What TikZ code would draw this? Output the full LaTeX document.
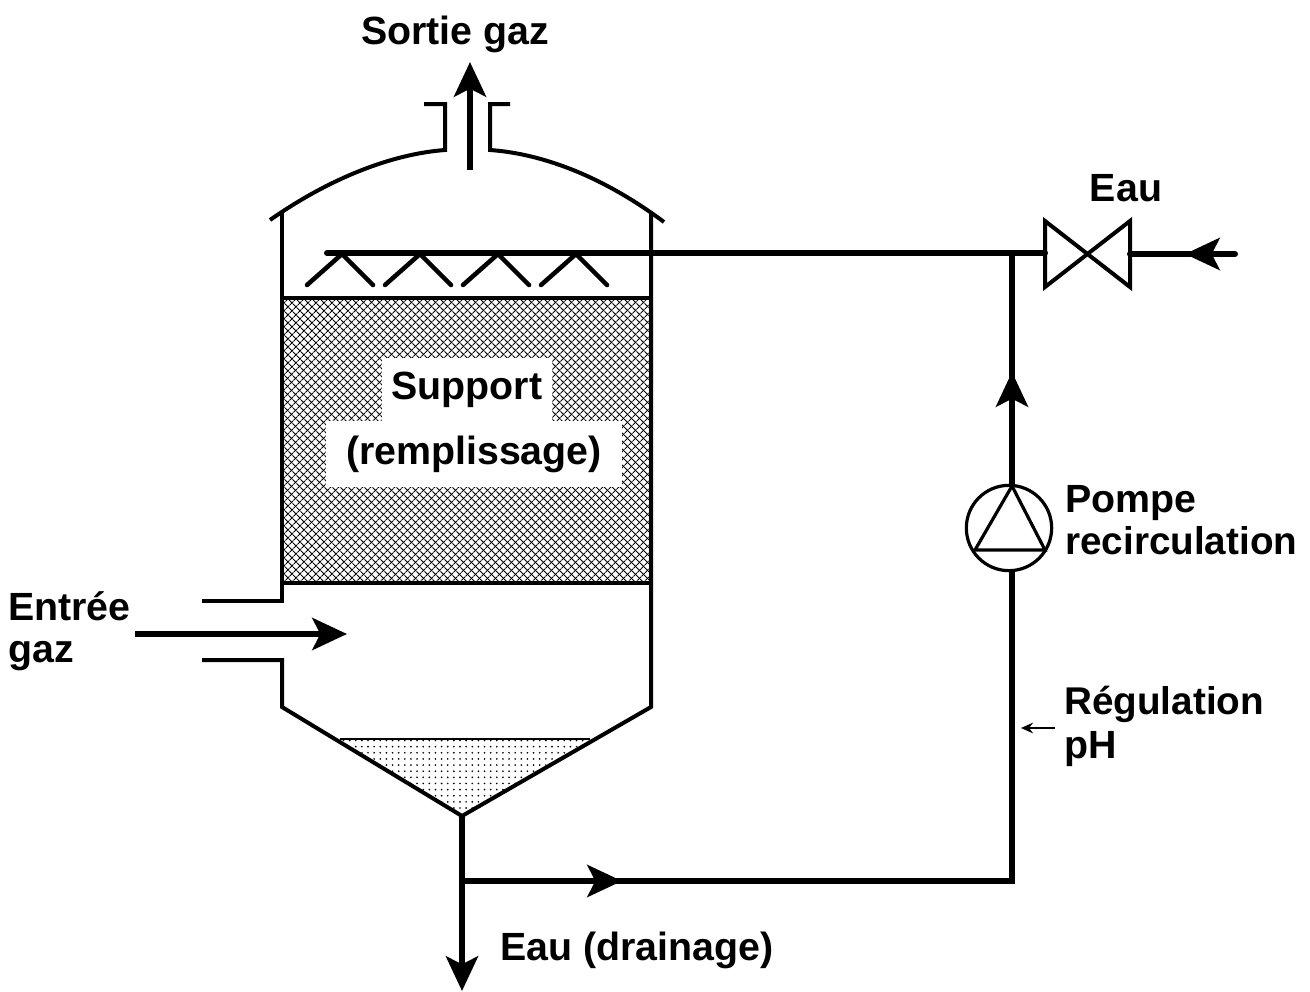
\documentclass[tikz,border=0pt]{standalone}
\usepackage{fontspec}
\setmainfont{Liberation Sans}
\usetikzlibrary{calc,arrows.meta,patterns.meta,positioning}

\begin{document}
\begin{tikzpicture}[
        x=0.75pt, y=-0.75pt,
        wall/.style={line width=3pt, line join=miter},
        pipe/.style={line width=4.5pt},
        flow/.style={pipe, -{Stealth[length=26pt, width=24pt, inset=6pt]}},
        spray/.style={line width=3.4pt, line cap=round},
        label/.style={font=\fontsize{29.5}{34}\selectfont\bfseries, inner sep=0pt},
        narrow/.style={font=\fontsize{29}{34}\selectfont\bfseries, inner sep=0pt},
        cutout/.style={fill=white, inner sep=0pt, font=\fontsize{29.5}{34}\selectfont\bfseries}
    ]
        \useasboundingbox (0,0) rectangle (1310,992);

        % packing and liquid
        \path[pattern={Lines[angle=45, distance=4pt, line width=0.9pt]}] (282,298) rectangle (651,583);
        \path[pattern={Lines[angle=-45, distance=4pt, line width=0.9pt]}] (282,298) rectangle (651,583);
        \path[pattern={Dots[distance=4.6pt, radius=0.7pt]}] (340,739) -- (590,739) -- (462,816) -- cycle;

        \node[cutout, minimum width=127.5pt, minimum height=48pt, text depth=6pt] (support) at (467,390) {Support};
        \node[cutout, minimum width=222pt, minimum height=49pt, text depth=6pt] (remplissage) at (474,454) {(remplissage)};

        % vessel
        \draw[wall] (424,104) -- (445,104) -- (445,150) .. controls (392,154) and (330,178) .. (270,220);
        \draw[wall] (510,104) -- (490,104) -- (490,150) .. controls (545,154) and (605,178) .. (664,222);
        \draw[wall] (282,213) -- (282,298);
        \draw[wall] (651,213) -- (651,707) -- (462,816) -- (282,707) -- (282,660) -- (202,660);
        \draw[wall] (282,298) -- (282,601) -- (202,601);
        \draw[wall] (282,298) -- (651,298);
        \draw[wall] (282,583) -- (651,583);
        \draw[line width=1.8pt] (340,739) -- (590,739);

        % spray heads
        \foreach \sx in {342,420,498,576}
            \draw[spray] (\sx-35,285) -- (\sx,254) -- (\sx+31,285);

        % named points of the pipework
        \coordinate (sprayend) at (327,253);
        \coordinate (tee) at (1012,253);
        \coordinate (valveL) at (1045,253);
        \coordinate (valveR) at (1130,254);
        \coordinate (feed) at (1235,254);
        \coordinate (feedtip) at (1185,254);
        \coordinate (risetip) at (1012,372);
        \coordinate (bottom) at (462,816);
        \coordinate (branch) at (462,881);
        \coordinate (corner) at (1012,881);
        \coordinate (runtip) at (622,881);
        \coordinate (draintip) at (462,991);
        \coordinate (gasin) at (135,634);
        \coordinate (gasintip) at (347,634);
        \coordinate (gasout) at (470,170);
        \coordinate (gasouttip) at (470,62);
        \coordinate (phstart) at (1055,728);
        \coordinate (phtip) at (1021,728);

        % valve and pump
        \draw[wall] (1045,221) -- (1130,287) -- (1130,221) -- (1045,287) -- cycle;
        \node[draw, circle, line width=2.4pt, minimum size=64pt, inner sep=0pt] (pump) at (1009,528) {};
        \coordinate (pumpA) at (1012,486);
        \coordinate (pumpB) at (975,550);
        \coordinate (pumpC) at (1045,550);
        \draw[line width=2.4pt, line join=miter] (pumpA) -- (pumpB) -- (pumpC) -- cycle;

        % pipes
        \draw[pipe, line cap=round] (sprayend) -- (tee) -- (valveL);
        \draw[pipe] (tee) -- (pumpA);
        \draw[flow] (pumpA) -- (risetip);
        \draw[pipe, line cap=round] (valveR) -- (feed);
        \draw[flow] (feed) -- (feedtip);
        \draw[pipe] (bottom) -- (branch);
        \draw[flow] (branch) -- (draintip);
        \draw[pipe] (branch) -- (corner) -- (pump.south -| corner);
        \draw[flow] (branch) -- (runtip);
        \draw[flow] (gasin) -- (gasintip);
        \draw[flow] (gasout) -- (gasouttip);
        \draw[line width=2pt, -{Stealth[length=9pt, width=8pt]}] (phstart) -- (phtip);

        % labels
        \node[label] (sortie) at (455,34) {Sortie gaz};
        \node[label] (eau) at (1126,188) {Eau};
        \node[label, anchor=west] (pompe) at (1065,503) {Pompe};
        \node[narrow, anchor=west] (recirc) at (1065,541) {recirculation};
        \node[label, anchor=west] (entree) at (8,606) {Entrée};
        \node[label, anchor=west] (gaz) at (8,656) {gaz};
        \node[narrow, anchor=west] (regul) at (1064,704) {Régulation};
        \node[label, anchor=west] (ph) at (1064,749) {pH};
        \node[label, anchor=west] (drainage) at (500,950) {Eau (drainage)};
    \end{tikzpicture}
\end{document}
